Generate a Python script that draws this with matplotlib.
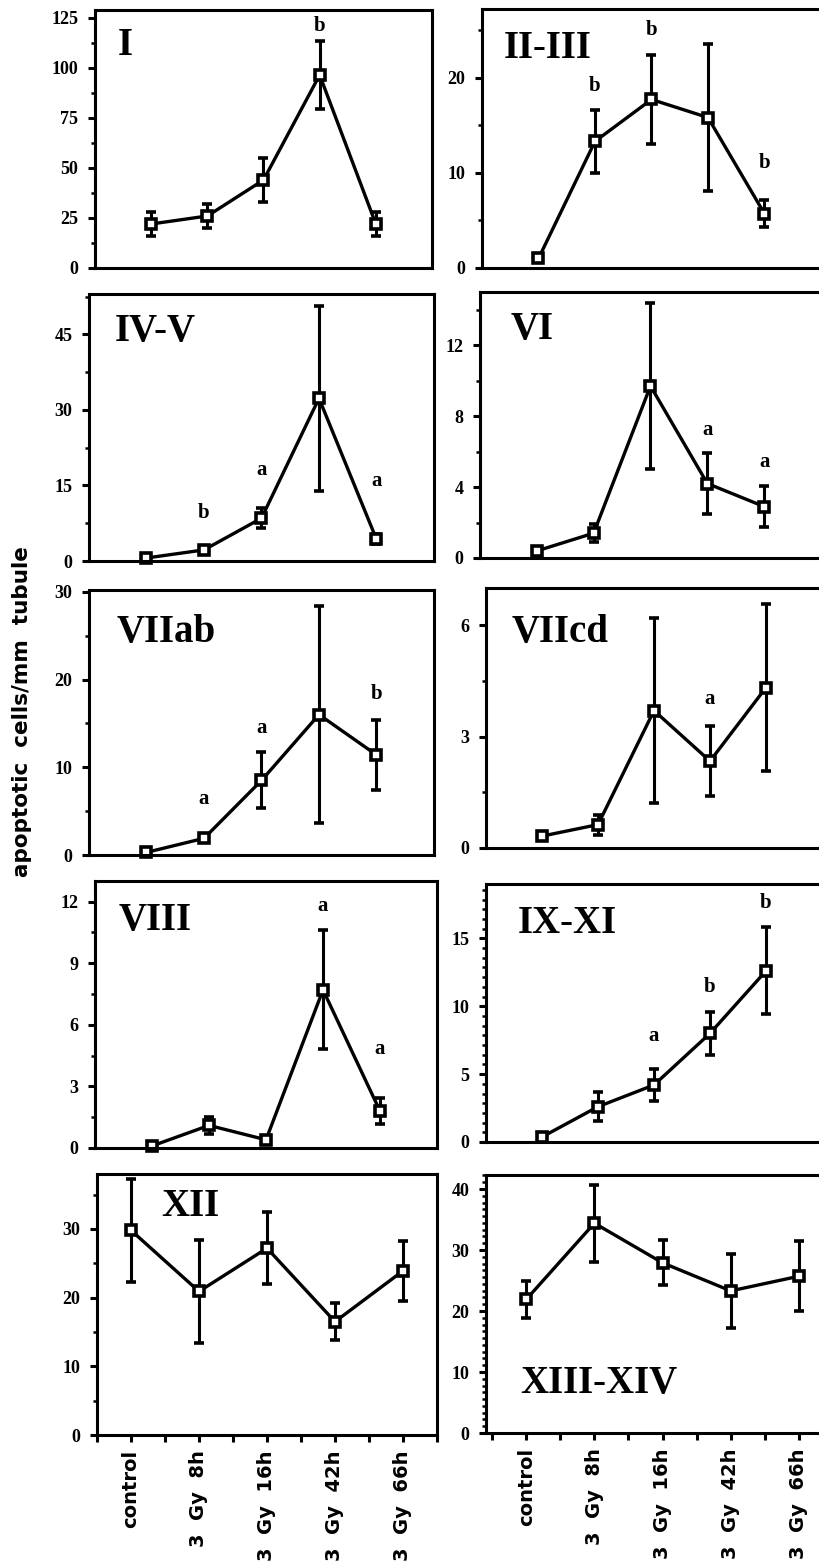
import matplotlib
matplotlib.use("Agg")
import matplotlib.pyplot as plt
from matplotlib.ticker import MultipleLocator, AutoMinorLocator

# x categories (treatment groups)
groups = ["control", "3 Gy 8h", "3 Gy 16h", "3 Gy 42h", "3 Gy 66h"]

# apoptotic cells / mm tubule, mean and error bar per stage
stage_I_mean = [22, 26, 44, 96.5, 22]
stage_I_err = [6, 6, 11, 17, 6]
stage_II_III_mean = [1.0, 13.3, 17.7, 15.8, 5.7]
stage_II_III_err = [0.3, 3.3, 4.7, 7.7, 1.4]
stage_IV_V_mean = [0.6, 2.2, 8.5, 32.3, 4.3]
stage_IV_V_err = [0.4, 0.6, 2.0, 18.4, 1.0]
stage_VI_mean = [0.4, 1.4, 9.7, 4.2, 2.9]
stage_VI_err = [0.15, 0.5, 4.7, 1.7, 1.15]
stage_VIIab_mean = [0.3, 1.9, 8.5, 16.0, 11.4]
stage_VIIab_err = [0.3, 0.4, 3.2, 12.4, 4.0]
stage_VIIcd_mean = [0.32, 0.63, 3.7, 2.34, 4.32]
stage_VIIcd_err = [0.08, 0.27, 2.5, 0.94, 2.25]
stage_VIII_mean = [0.1, 1.1, 0.4, 7.7, 1.8]
stage_VIII_err = [0.05, 0.43, 0.1, 2.9, 0.65]
stage_IX_XI_mean = [0.37, 2.6, 4.2, 8.0, 12.6]
stage_IX_XI_err = [0.1, 1.05, 1.2, 1.6, 3.2]
stage_XII_mean = [29.8, 20.9, 27.2, 16.5, 23.9]
stage_XII_err = [7.5, 7.5, 5.2, 2.7, 4.35]
stage_XIII_XIV_mean = [21.9, 34.4, 27.9, 23.3, 25.7]
stage_XIII_XIV_err = [3.1, 6.3, 3.7, 6.1, 5.7]

# significance letters: (group index, y value, letter)
stage_I_sig = [(3, 121, "b")]
stage_II_III_sig = [(1, 19.1, "b"), (2, 25.0, "b"), (4, 11.0, "b")]
stage_IV_V_sig = [(1, 9.5, "b"), (2, 18.0, "a"), (4, 15.8, "a")]
stage_VI_sig = [(3, 7.2, "a"), (4, 5.4, "a")]
stage_VIIab_sig = [(1, 6.4, "a"), (2, 14.5, "a"), (4, 18.3, "b")]
stage_VIIcd_sig = [(3, 4.0, "a")]
stage_VIII_sig = [(3, 11.8, "a"), (4, 4.8, "a")]
stage_IX_XI_sig = [(2, 7.8, "a"), (3, 11.4, "b"), (4, 17.6, "b")]
stage_XII_sig = []
stage_XIII_XIV_sig = []

W, H = 820, 1563
fig = plt.figure(figsize=(W / 100, H / 100), dpi=100)

serif = "Liberation Serif"
sans = "DejaVu Sans"

# name, mean, err, sig, pixel box (l, t, r, b), xlim, ylim top, major step,
# minor subdivisions, label position (x, y, va) in axes fraction
panels = [
    ("I", stage_I_mean, stage_I_err, stage_I_sig,
     (95, 10, 432, 268), (0, 6), 129, 25, 2, (0.068, 0.935, "top")),
    ("II-III", stage_II_III_mean, stage_II_III_err, stage_II_III_sig,
     (482, 9, 821, 268), (0, 6), 27.2, 10, 2, (0.065, 0.92, "top")),
    ("IV-V", stage_IV_V_mean, stage_IV_V_err, stage_IV_V_sig,
     (89, 294, 434, 561), (0, 6), 53, 15, 2, (0.075, 0.93, "top")),
    ("VI", stage_VI_mean, stage_VI_err, stage_VI_sig,
     (480, 292, 821, 558), (0, 6), 15, 4, 2, (0.09, 0.93, "top")),
    ("VIIab", stage_VIIab_mean, stage_VIIab_err, stage_VIIab_sig,
     (89, 590, 434, 855), (0, 6), 30.2, 10, 2, (0.08, 0.91, "top")),
    ("VIIcd", stage_VIIcd_mean, stage_VIIcd_err, stage_VIIcd_sig,
     (486, 588, 822, 848), (0, 6), 7.0, 3, 2, (0.077, 0.90, "top")),
    ("VIII", stage_VIII_mean, stage_VIII_err, stage_VIII_sig,
     (95, 881, 437, 1148), (0, 6), 13, 3, 2, (0.07, 0.92, "top")),
    ("IX-XI", stage_IX_XI_mean, stage_IX_XI_err, stage_IX_XI_sig,
     (486, 884, 822, 1142), (0, 6), 19, 5, 7, (0.094, 0.92, "top")),
    ("XII", stage_XII_mean, stage_XII_err, stage_XII_sig,
     (97, 1174, 437, 1435), (0.5, 5.5), 38, 10, 2, (0.19, 0.946, "top")),
    ("XIII-XIV", stage_XIII_XIV_mean, stage_XIII_XIV_err, stage_XIII_XIV_sig,
     (486, 1175, 833, 1433), (0.41, 5.5), 42.3, 10, 9, (0.1, 0.12, "bottom")),
]

x = list(range(1, len(groups) + 1))

for i, (name, mean, err, sig, box, xlim, ytop, major, nminor, lab) in enumerate(panels):
    l, t, r, b = box
    ax = fig.add_axes([l / W, 1 - b / H, (r - l) / W, (b - t) / H])
    ax.errorbar(x, mean, yerr=err, color="black", lw=2.4, marker="s", ms=7,
                mfc="white", mec="black", mew=2.6, elinewidth=2.2,
                capsize=3.5, capthick=2.2, clip_on=False)
    for gi, yv, letter in sig:
        ax.text(x[gi], yv, letter, ha="center", va="center", fontsize=15,
                fontweight="bold", family=serif)
    ax.text(lab[0], lab[1], name, transform=ax.transAxes, ha="left", va=lab[2],
            fontsize=28, fontweight="bold", family=serif)
    ax.set_xlim(*xlim)
    ax.set_ylim(0, ytop)
    ax.yaxis.set_major_locator(MultipleLocator(major))
    ax.yaxis.set_minor_locator(AutoMinorLocator(nminor))
    for s in ax.spines.values():
        s.set_linewidth(2.2)
    ax.tick_params(axis="y", which="major", direction="out", length=5, width=2.2,
                   pad=7, labelsize=13)
    ax.tick_params(axis="y", which="minor", direction="out", length=3, width=1.8)
    for lbl in ax.get_yticklabels():
        lbl.set_fontweight("bold")
        lbl.set_family(serif)
    if i >= 8:
        ax.set_xticks(x)
        ax.set_xticklabels([g.replace(" ", "  ") for g in groups], rotation=90,
                           fontsize=14, fontweight="bold", family=sans)
        ax.xaxis.set_minor_locator(MultipleLocator(0.5))
        ax.tick_params(axis="x", which="both", direction="out", length=5,
                       width=2.2, pad=6)
    else:
        ax.set_xticks([])

fig.text(0.027, 1 - 712 / H, "apoptotic  cells/mm  tubule", rotation=90,
         ha="center", va="center", fontsize=15.5, fontweight="bold", family=sans)

fig.savefig("out.png", dpi=100)
